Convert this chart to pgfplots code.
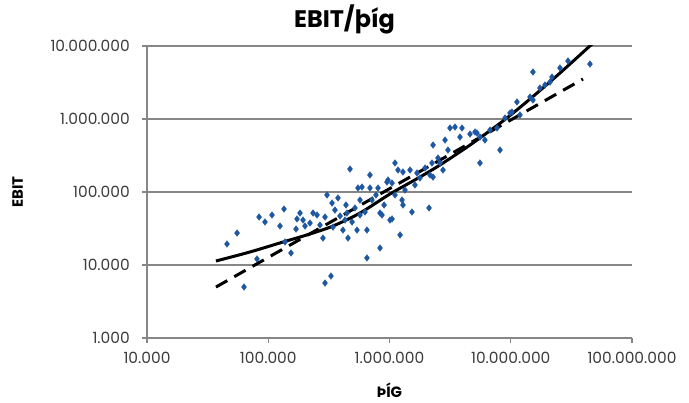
\documentclass[border=0pt]{standalone}
\usepackage{pgfplots}
\pgfplotsset{compat=1.18}
\usepackage{fontspec}
\setmainfont{Poppins}
\definecolor{ptblue}{RGB}{31,88,162}
\definecolor{gridc}{RGB}{134,134,134}
\definecolor{lbl}{RGB}{60,60,60}

% EBIT against þíg
\pgfplotstableread{
x y
45700 19400
55300 27400
84000 45400
80700 12100
63100 4990
134900 58500
154000 14600
172700 42700
193600 41300
169500 31100
220800 37600
252300 48400
293800 45400
305000 91000
335600 70600
282500 23400
293800 5660
329000 7060
354800 56600
342000 33100
472000 206500
233900 51500
375800 82800
445700 51500
429500 41300
413000 30100
454600 23400
539500 30100
651600 30100
549500 113500
592900 117000
690000 113500
803500 113500
953000 137000
1049000 132800
1110000 249500
628000 53200
835000 51500
1009000 41300
137400 20700
835000 17100
3155000 753000
3467000 776000
3811000 566000
4613000 622000
5260000 643000
2286000 440000
3035000 376000
1291000 188000
1476000 200000
1686000 182000
2240000 249500
2607000 249500
2761000 200000
2158000 171000
2286000 160000
5572000 249500
972000 146000
1268000 77600
1291000 66400
1531000 53200
2118000 60400
867000 48400
1049000 42700
1222000 25800
651600 12500
29650000 6240000
45000000 5660000
15240000 4406000
21880000 3758000
21080000 3213000
14420000 2000000
15240000 1820000
11250000 1710000
9860000 1208000
11910000 1135000
5070000 664000
5572000 566000
8150000 376000
182800 51500
201000 34200
267000 35300
390800 46900
491000 38800
519000 60400
717000 77600
774000 91000
902000 66400
1110000 91000
1342000 106400
1783000 155600
1963000 213000
2512000 292000
2871000 515000
6745000 706000
7700000 753000
8970000 1033000
10230000 1247000
17400000 2660000
19150000 2925000
25470000 5000000
3963000 753000
6120000 515000
1622000 124700
1175000 200000
690000 171000
571000 77600
125000 34200
94000 38800
107400 48400
571000 48400
437500 66400
}\pointsdata

\begin{document}
\begin{tikzpicture}
\path[use as bounding box] (-147bp,-65bp) rectangle (542bp,338bp);
\begin{axis}[
  scale only axis, width=485bp, height=292bp,
  xmode=log, ymode=log,
  xmin=1e4, xmax=1e8, ymin=1e3, ymax=1e7,
  axis x line*=bottom, axis y line*=left,
  axis line style={-, gridc, line width=1.2bp},
  xtick={1e4,1e5,1e6,1e7,1e8},
  xticklabels={10.000,100.000,1.000.000,10.000.000,100.000.000},
  ytick={1e3,1e4,1e5,1e6,1e7},
  yticklabels={1.000,10.000,100.000,1.000.000,10.000.000},
  xminorticks=false, yminorticks=false,
  ymajorgrids, grid style={gridc, line width=1.2bp},
  tick align=outside, major tick length=5bp,
  tick style={gridc, line width=1.2bp},
  tick label style={font=\fontsize{15.5}{18}\selectfont, text=lbl},
  xticklabel style={inner sep=0pt, yshift=-9bp},
  yticklabel style={inner sep=0pt, xshift=-12bp},
]
\addplot[only marks, mark=diamond*, mark size=3.3bp, color=ptblue] table[x=x, y=y] {\pointsdata};
% power trend (dashed)
\addplot[black, line width=3bp, dash pattern=on 13bp off 8bp] coordinates {
  (37060,4990) (39450000,3530000)
};
% polynomial trend (solid)
\addplot[black, line width=3bp, smooth] coordinates {
  (37060,11350) (70600,15070) (132500,20650) (220800,26600) (342000,34200)
  (571000,51500) (1009000,93900) (1783000,160300) (2607000,234400)
  (4613000,440000) (8630000,939000) (14420000,1879000) (25470000,4266000)
  (46770000,10640000)
};
\end{axis}
\node[font=\bfseries\fontsize{24}{28}\selectfont, anchor=base] at (197.5bp,310bp) {EBIT/þíg};
\node[font=\bfseries\fontsize{15}{18}\selectfont, anchor=base] at (242.5bp,-59bp) {ÞÍG};
\node[font=\bfseries\fontsize{15}{18}\selectfont, rotate=90, anchor=base] at (-124bp,146bp) {EBIT};
\end{tikzpicture}
\end{document}
